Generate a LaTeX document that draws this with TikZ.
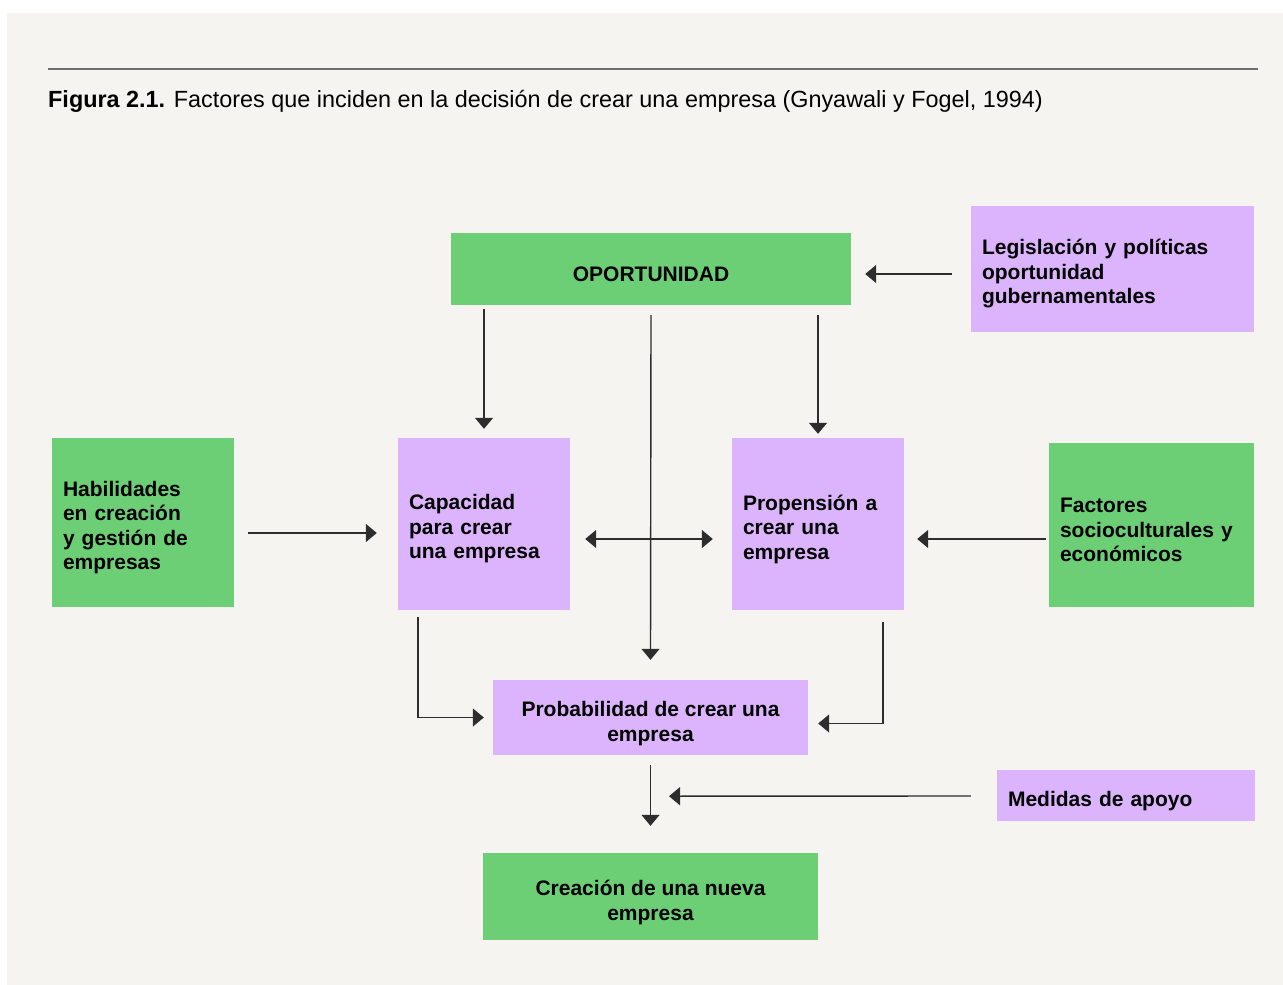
\documentclass[tikz,border=0pt]{standalone}
\usepackage{fontspec}
\setmainfont{Liberation Sans}
\usetikzlibrary{arrows.meta,calc}
\definecolor{bgc}{RGB}{245,244,240}
\definecolor{gfill}{RGB}{108,207,118}
\definecolor{pfill}{RGB}{220,180,254}
\definecolor{lnc}{RGB}{45,45,45}
\definecolor{rulec}{RGB}{110,110,110}
\begin{document}
\begin{tikzpicture}[x=1pt,y=-1pt,
  box/.style={inner sep=0pt, draw=none},
  gbox/.style={box, fill=gfill},
  pbox/.style={box, fill=pfill},
  txt/.style={inner sep=0pt, font=\fontsize{21}{24.5}\selectfont\bfseries, text=black},
  arr/.style={draw=lnc, line width=1.4pt, -{Triangle[length=11pt,width=18pt]}},
  darr/.style={draw=lnc, line width=1.4pt, {Triangle[length=11pt,width=18pt]}-{Triangle[length=11pt,width=18pt]}}
]
\useasboundingbox (0,0) rectangle (1283,985);
\fill[white] (0,0) rectangle (1283,985);
\fill[bgc] (7,13) rectangle (1283,985);
\draw[rulec, line width=1.6pt] (48,69) -- (1258,69);
\node[anchor=base west, inner sep=0pt, font=\fontsize{23.4}{27}\selectfont] (title) at (48,107)
  {\textbf{Figura 2.1.} Factores que inciden en la decisión de crear una empresa (Gnyawali y Fogel, 1994)};

% boxes
\node[gbox, minimum width=400pt, minimum height=72pt] (opo) at (651,269) {};
\node[pbox, minimum width=283pt, minimum height=126pt] (legis) at (1112.5,269) {};
\node[gbox, minimum width=182pt, minimum height=169pt] (habil) at (143,522.5) {};
\node[pbox, minimum width=172pt, minimum height=172pt] (capac) at (484,524) {};
\node[pbox, minimum width=172pt, minimum height=172pt] (prop) at (818,524) {};
\node[gbox, minimum width=205pt, minimum height=164pt] (fact) at (1151.5,525) {};
\node[pbox, minimum width=315pt, minimum height=75pt] (prob) at (650.5,717.5) {};
\node[pbox, minimum width=258pt, minimum height=51pt] (medid) at (1126,795.5) {};
\node[gbox, minimum width=335pt, minimum height=87pt] (crea) at (650.5,896.5) {};

% texts
\node[txt, align=center] (opo-t) at ($(opo.center)+(0,5)$) {OPORTUNIDAD};
\node[txt, text width=261pt, align=left] (legis-t) at ($(legis.center)+(0,5)$)
  {Legislación y políticas\\oportunidad\\gubernamentales};
\node[txt, text width=160pt, align=left] (habil-t) at ($(habil.center)+(0,5)$)
  {Habilidades\\en creación\\y gestión de\\empresas};
\node[txt, text width=150pt, align=left] (capac-t) at ($(capac.center)+(0,5)$)
  {Capacidad\\para crear\\una empresa};
\node[txt, text width=150pt, align=left] (prop-t) at ($(prop.center)+(0,5)$)
  {Propensión a\\crear una\\empresa};
\node[txt, text width=183pt, align=left] (fact-t) at ($(fact.center)+(0,5)$)
  {Factores\\socioculturales y\\económicos};
\node[txt, align=center] (prob-t) at ($(prob.center)+(0,6)$)
  {Probabilidad de crear una\\empresa};
\node[txt, text width=236pt, align=left] (medid-t) at ($(medid.center)+(0,6)$)
  {Medidas de apoyo};
\node[txt, align=center] (crea-t) at ($(crea.center)+(0,6)$)
  {Creación de una nueva\\empresa};

\coordinate (mtip) at ($(prob.south)+(18.5,41)$);

\draw[arr] ($(legis.west)+(-19,5)$) -- ($(opo.east)+(14,5)$);
\draw[arr] ($(opo.south -| capac.north)+(0,4)$) -- ($(capac.north)+(0,-9)$);
\draw[arr] ($(opo.south)+(0,10)$) -- ($(prob.north)+(0,-20)$);
\draw[arr] ($(opo.south -| prop.north)+(0,10)$) -- ($(prop.north)+(0,-4)$);
\draw[arr] ($(habil.east)+(14,10.5)$) -- ($(capac.west)+(-21,9)$);
\draw[darr] ($(capac.east)+(15,15)$) -- ($(prop.west)+(-19,15)$);
\draw[arr] ($(fact.west)+(-3,14)$) -- ($(prop.east)+(13,15)$);
\draw[arr] ($(capac.south)+(-66,7)$) |- ($(prob.west)+(-9,0)$);
\draw[arr] ($(prop.south)+(65,12)$) |- ($(prob.east)+(10,6)$);
\draw[arr] ($(prob.south)+(0,10)$) -- ($(crea.north)+(0,-27)$);
\draw[arr] ($(medid.west)+(-26,0.5)$) -- (mtip);
\end{tikzpicture}
\end{document}
